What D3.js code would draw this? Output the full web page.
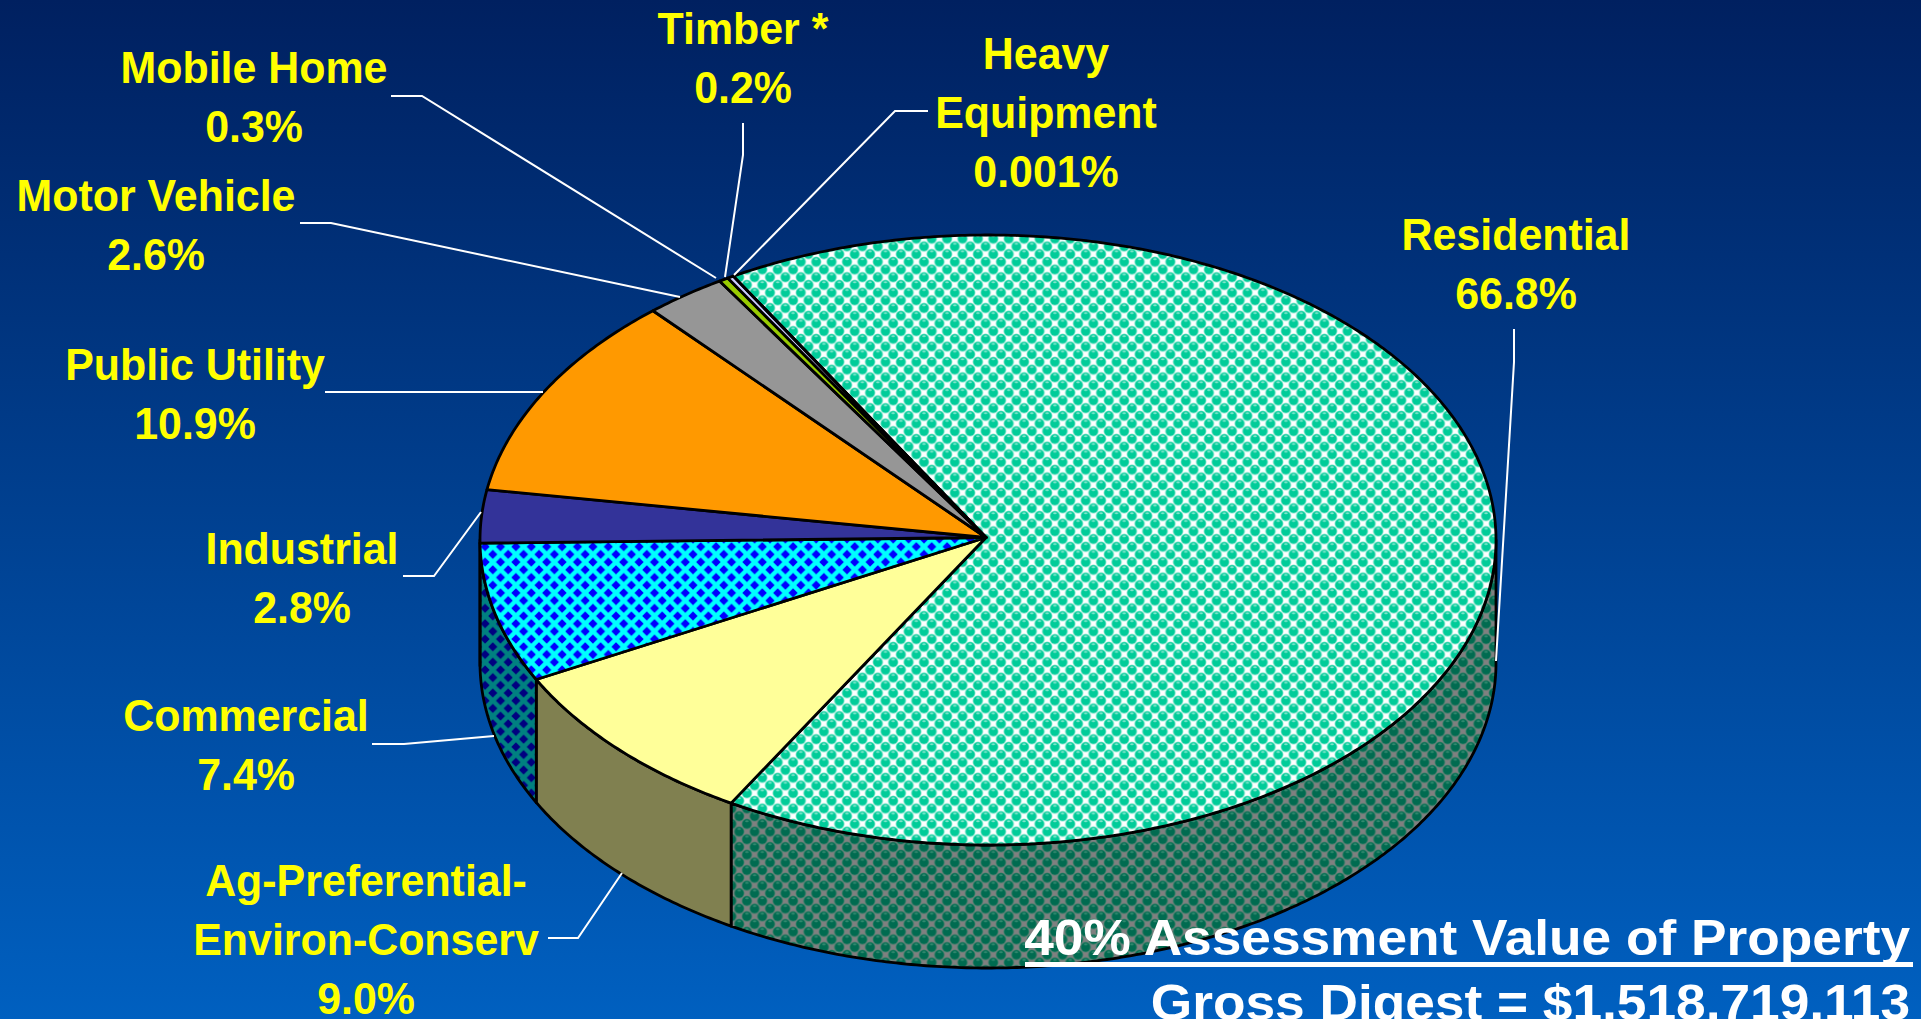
<!DOCTYPE html>
<html>
<head>
<meta charset="utf-8">
<script src="https://cdn.jsdelivr.net/npm/d3@7"></script>
<style>
  html, body { margin: 0; padding: 0; background: #0a3f8e; overflow: hidden; }
  text { font-family: "Liberation Sans", Arial, sans-serif; font-weight: bold; }
</style>
</head>
<body>
<div id="chart"></div>
<script>
const width = 1921, height = 1019;

// Values
const categories = ["Residential", "Ag-Preferential-Environ-Conserv", "Commercial", "Industrial",
  "Public Utility", "Motor Vehicle", "Mobile Home", "Timber *", "Heavy Equipment"];
const percents = [66.8, 9.0, 7.4, 2.8, 10.9, 2.6, 0.3, 0.2, 0.001];
const valueLabels = ["66.8%", "9.0%", "7.4%", "2.8%", "10.9%", "2.6%", "0.3%", "0.2%", "0.001%"];
const labelLines = [["Residential"], ["Ag-Preferential-", "Environ-Conserv"], ["Commercial"], ["Industrial"],
  ["Public Utility"], ["Motor Vehicle"], ["Mobile Home"], ["Timber *"], ["Heavy", "Equipment"]];
const topFills = ["url(#ballTop)", "#ffff99", "url(#diaTop)", "#333399", "#ff9900", "#969696", "#99cc00", "#ccccff", "#ffffff"];
const sideFills = ["url(#ballSide)", "#808050", "url(#diaSide)", "#1a1a4d", "#804d00", "#4b4b4b", "#4d6600", "#666680", "#808080"];

const labelX = [1516, 366, 246, 302, 195, 156, 254, 743, 1046];
const labelY = [250, 896, 731, 564, 380, 211, 83, 44, 69];
const leaders = [
  [[1514, 329], [1514, 362], [1496, 661]],
  [[548, 938], [578, 938], [622, 873]],
  [[372, 744], [404, 744], [494, 736]],
  [[403, 576], [434, 576], [481, 512]],
  [[325, 392], [543, 392]],
  [[300, 223], [331, 223], [680, 297]],
  [[391, 96], [422, 96], [716, 278]],
  [[743, 123], [743, 155], [725, 277]],
  [[928, 111], [895, 111], [734, 275]],
];

const cx = 988, cy = 540, rx = 508, ry = 305, depth = 123;
const apexX = 986, apexY = 537.5;
const startAngle = -30.1 * Math.PI / 180;

const xUnit = d3.scaleLinear().domain([-1, 1]).range([cx - rx, cx + rx]);
const yUnit = d3.scaleLinear().domain([-1, 1]).range([cy - ry, cy + ry]);

const svg = d3.select("#chart").append("svg")
  .attr("width", width).attr("height", height)
  .style("display", "block");

const defs = svg.append("defs");

const bg = defs.append("linearGradient").attr("id", "bg")
  .attr("x1", 0).attr("y1", 0).attr("x2", 0).attr("y2", 1);
bg.append("stop").attr("offset", "0%").attr("stop-color", "#002060");
bg.append("stop").attr("offset", "100%").attr("stop-color", "#0060c0");

// diamond check, cyan/blue on top and darkened on the side
function diamondPattern(id, back, front) {
  const s = 15.4, r = 4.6;
  const p = defs.append("pattern").attr("id", id).attr("patternUnits", "userSpaceOnUse")
    .attr("width", s).attr("height", s);
  p.append("rect").attr("width", s).attr("height", s).attr("fill", back);
  p.selectAll("path").data([[s / 2, s / 2], [0, 0], [s, 0], [0, s], [s, s]]).join("path")
    .attr("d", d => `M${d[0] - r},${d[1]}L${d[0]},${d[1] - r}L${d[0] + r},${d[1]}L${d[0]},${d[1] + r}Z`)
    .attr("fill", front);
}
diamondPattern("diaTop", "#00ffff", "#0000ff");
diamondPattern("diaSide", "#008080", "#000080");

// little balls on a checker, each with a pale rim and a highlight
function ballPattern(id, back, rim, ball, shine) {
  const s = 15.4, r = 4.5;
  const p = defs.append("pattern").attr("id", id).attr("patternUnits", "userSpaceOnUse")
    .attr("width", s).attr("height", s);
  p.append("rect").attr("width", s).attr("height", s).attr("fill", back);
  [[s / 2, s / 2], [0, 0], [s, 0], [0, s], [s, s]].forEach(c => {
    p.append("circle").attr("cx", c[0]).attr("cy", c[1]).attr("r", r + 0.8).attr("fill", rim);
    p.append("circle").attr("cx", c[0]).attr("cy", c[1]).attr("r", r).attr("fill", ball);
    p.append("ellipse").attr("cx", c[0]).attr("cy", c[1] - 2.6).attr("rx", 1.8).attr("ry", 0.9).attr("fill", shine);
  });
}
ballPattern("ballTop", "#ffffff", "#80e6cc", "#00cc99", "#80e6cc");
ballPattern("ballSide", "#808080", "#40806c", "#006b50", "#338a70");

svg.append("rect").attr("width", width).attr("height", height).attr("fill", "url(#bg)");

const pie = d3.pie().sort(null).value(d => d)
  .startAngle(startAngle).endAngle(startAngle + 2 * Math.PI);
const slices = pie(percents);

// angles running from a0 to a1 in small steps, for the ellipse outline
function angles(a0, a1) {
  const n = Math.max(2, Math.ceil(Math.abs(a1 - a0) / 0.01));
  return d3.range(n + 1).map(i => a0 + (a1 - a0) * i / n);
}
const line = d3.line();
const px = a => xUnit(Math.sin(a));
const py = (a, dy = 0) => yUnit(-Math.cos(a)) + dy;

function topPath(d) {
  const pts = angles(d.startAngle, d.endAngle).map(a => [px(a), py(a)]);
  return line([[apexX, apexY], ...pts]) + "Z";
}
function sidePath(d) {
  // only the front half of the wall is seen (90deg to 270deg)
  const lo = Math.max(d.startAngle, Math.PI / 2), hi = Math.min(d.endAngle, 3 * Math.PI / 2);
  if (hi <= lo) return null;
  const a = angles(lo, hi);
  const upper = a.map(t => [px(t), py(t)]);
  const lower = a.slice().reverse().map(t => [px(t), py(t, depth)]);
  return line([...upper, ...lower]) + "Z";
}

const sideData = slices.filter(d => sidePath(d));
svg.append("g").selectAll("path").data(sideData).join("path")
  .attr("d", sidePath)
  .attr("fill", d => sideFills[d.index])
  .attr("stroke", "#000").attr("stroke-width", 2.8).attr("stroke-linejoin", "round");

svg.append("g").selectAll("path").data(slices).join("path")
  .attr("d", topPath)
  .attr("fill", d => topFills[d.index])
  .attr("stroke", "#000").attr("stroke-width", 2.8).attr("stroke-linejoin", "round");

// leader lines
svg.append("g").selectAll("path").data(leaders).join("path")
  .attr("d", d => line(d))
  .attr("fill", "none").attr("stroke", "#fff").attr("stroke-width", 2);

// labels, squeezed a little sideways like the original
const labels = svg.append("g").selectAll("text").data(categories).join("text")
  .attr("text-anchor", "middle")
  .attr("fill", "#ffff00")
  .attr("font-size", 44)
  .attr("transform", (d, i) => `translate(${labelX[i]},${labelY[i]}) scale(0.975,1)`);
labels.each(function (d, i) {
  const rows = [...labelLines[i], valueLabels[i]];
  d3.select(this).selectAll("tspan").data(rows).join("tspan")
    .attr("x", 0)
    .attr("y", (r, j) => j * 59)
    .text(r => r);
});

// note at the bottom right
const noteLines = ["40% Assessment Value of Property", "Gross Digest = $1,518,719,113"];
svg.append("g").selectAll("text").data(noteLines).join("text")
  .attr("transform", (d, i) => `translate(1910,${955 + i * 65}) scale(1.065,1)`)
  .attr("text-anchor", "end")
  .attr("fill", "#fff")
  .attr("font-size", 50)
  .text(d => d);
svg.append("rect").attr("x", 1025).attr("y", 962).attr("width", 888).attr("height", 5).attr("fill", "#fff");
</script>
</body>
</html>
